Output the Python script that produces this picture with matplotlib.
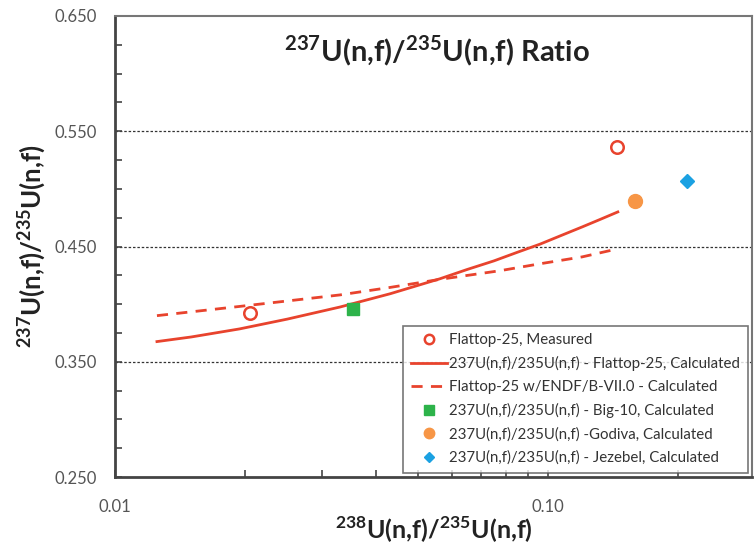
import matplotlib
matplotlib.use("Agg")
import matplotlib.pyplot as plt
from matplotlib.ticker import FixedLocator, MultipleLocator, NullFormatter, FixedFormatter

plt.rcParams['font.family'] = ['Lato', 'DejaVu Sans']
plt.rcParams['mathtext.fontset'] = 'custom'
plt.rcParams['mathtext.rm'] = 'Lato'
plt.rcParams['mathtext.bf'] = 'Lato:bold'

# Data
measured_x = [0.0205, 0.144]
measured_y = [0.392, 0.536]

calc_x = [0.0125, 0.015, 0.0194, 0.025, 0.0331, 0.0432, 0.0563, 0.065, 0.075, 0.085,
          0.0958, 0.108, 0.120, 0.132, 0.145]
calc_y = [0.3675, 0.3715, 0.3785, 0.387, 0.3975, 0.409, 0.422, 0.430, 0.4375, 0.445,
          0.452, 0.460, 0.467, 0.4735, 0.480]

endf_x = [0.0125, 0.0194, 0.0331, 0.0432, 0.0563, 0.0775, 0.0958, 0.120, 0.145]
endf_y = [0.390, 0.398, 0.408, 0.4145, 0.4215, 0.429, 0.435, 0.441, 0.448]

big10_x = [0.0355]
big10_y = [0.396]
godiva_x = [0.159]
godiva_y = [0.4895]
jezebel_x = [0.2095]
jezebel_y = [0.507]

labels = [
    "Flattop-25, Measured",
    "237U(n,f)/235U(n,f) - Flattop-25, Calculated",
    "Flattop-25 w/ENDF/B-VII.0 - Calculated",
    "237U(n,f)/235U(n,f) - Big-10, Calculated",
    "237U(n,f)/235U(n,f) -Godiva, Calculated",
    "237U(n,f)/235U(n,f) - Jezebel, Calculated",
]
ytick_vals = [0.250, 0.350, 0.450, 0.550, 0.650]
ytick_labels = ["0.250", "0.350", "0.450", "0.550", "0.650"]
xtick_vals = [0.01, 0.10]
xtick_labels = ["0.01", "0.10"]

red = '#E8432D'
green = '#2DB34A'
orange = '#F79646'
blue = '#1BA1E2'

fig = plt.figure(figsize=(7.55, 5.5), dpi=100)
ax = fig.add_axes([115/755, 1-477/550, (752-115)/755, (477-16)/550])

ax.plot(measured_x, measured_y, 'o', ls='none', mfc='white', mec=red, mew=1.8, ms=9, label=labels[0], zorder=5)
ax.plot(calc_x, calc_y, '-', color=red, lw=2, label=labels[1])
ax.plot(endf_x, endf_y, '--', color=red, lw=2, dashes=(4, 3), label=labels[2])
ax.plot(big10_x, big10_y, 's', ls='none', color=green, ms=9, label=labels[3], zorder=4)
ax.plot(godiva_x, godiva_y, 'o', ls='none', color=orange, ms=10, label=labels[4])
ax.plot(jezebel_x, jezebel_y, 'D', ls='none', color=blue, ms=7, label=labels[5])

ax.set_xscale('log')
ax.set_xlim(0.01, 0.296)
ax.set_ylim(0.25, 0.65)

ax.xaxis.set_major_locator(FixedLocator(xtick_vals))
ax.xaxis.set_major_formatter(FixedFormatter(xtick_labels))
ax.xaxis.set_minor_locator(FixedLocator([0.02, 0.03, 0.04, 0.05, 0.06, 0.07, 0.08, 0.09, 0.2]))
ax.xaxis.set_minor_formatter(NullFormatter())
ax.yaxis.set_major_locator(FixedLocator(ytick_vals))
ax.yaxis.set_major_formatter(FixedFormatter(ytick_labels))
ax.yaxis.set_minor_locator(MultipleLocator(0.025))

ax.tick_params(axis='both', which='both', direction='in', colors='#444444', labelcolor='#555555', labelsize=12)
ax.tick_params(axis='both', which='major', length=5, width=1.2)
ax.tick_params(axis='both', which='minor', length=5, width=1.2)
ax.tick_params(axis='y', pad=13)
ax.tick_params(axis='x', pad=16)

for y in [0.350, 0.450, 0.550]:
    ax.axhline(y, color='#333333', lw=0.9, ls=(0, (2, 1.5)), zorder=1)

for s in ['left', 'bottom']:
    ax.spines[s].set_color('#444444')
    ax.spines[s].set_linewidth(2)
for s in ['top', 'right']:
    ax.spines[s].set_color('#777777')
    ax.spines[s].set_linewidth(1.5)

ax.text(0.506, 0.925, r'$^{\mathbf{237}}$U(n,f)/$^{\mathbf{235}}$U(n,f) Ratio', transform=ax.transAxes,
        ha='center', va='center', fontsize=21, fontweight='bold', color='#222222')

ax.set_xlabel(r'$^{\mathbf{238}}$U(n,f)/$^{\mathbf{235}}$U(n,f)', fontsize=18, fontweight='bold', color='#222222', labelpad=0)
ax.set_ylabel(r'$^{\mathbf{237}}$U(n,f)/$^{\mathbf{235}}$U(n,f)', fontsize=18.5, fontweight='bold', color='#222222', labelpad=5)

leg = ax.legend(loc='lower right', fontsize=10.8, frameon=True, fancybox=False, edgecolor='#555555',
                labelspacing=0.6, handlelength=2.4, handletextpad=0.15, borderaxespad=0.3,
                borderpad=0.5, markerscale=0.75)
leg.get_frame().set_linewidth(1.2)
for t in leg.get_texts():
    t.set_color('#333333')

fig.savefig('out.png', dpi=100)
